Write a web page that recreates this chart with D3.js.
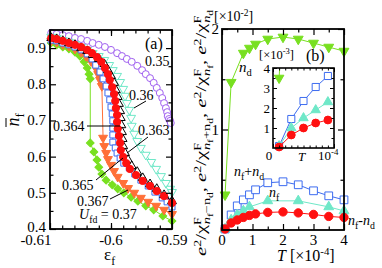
<!DOCTYPE html>
<html><head><meta charset="utf-8">
<script src="https://cdn.jsdelivr.net/npm/d3@7"></script>
<style>body{margin:0;background:#fff}text{font-family:"Liberation Serif","Times New Roman",serif;fill:#000}</style>
</head><body><svg id="c" width="382" height="268"></svg>
<script>
// ---------- Panel (a): n_f vs eps_f for several U_fd ----------
const epsA035=[-0.6098,-0.6089,-0.6079,-0.6069,-0.6059,-0.6049,-0.6039,-0.6030,-0.6020,-0.6010,-0.6000,-0.5990,-0.5982,-0.5974,-0.5966,-0.5957,-0.5949,-0.5943,-0.5936,-0.5930,-0.5925,-0.5920,-0.5916,-0.5913,-0.5910,-0.5908,-0.5907,-0.5905,-0.5903,-0.5902];
const nfA035=[0.942,0.939,0.936,0.933,0.928,0.925,0.920,0.914,0.909,0.903,0.895,0.886,0.878,0.870,0.862,0.851,0.839,0.828,0.817,0.804,0.790,0.776,0.762,0.748,0.734,0.723,0.712,0.704,0.699,0.693];
const epsA036=[-0.6098,-0.6089,-0.6079,-0.6069,-0.6059,-0.6049,-0.6039,-0.6030,-0.6020,-0.6011,-0.6003,-0.5997,-0.5990,-0.5985,-0.5980,-0.5977,-0.5974,-0.5970,-0.5967,-0.5966,-0.5962,-0.5957,-0.5951,-0.5943,-0.5934,-0.5926,-0.5918,-0.5910,-0.5903,-0.5900];
const nfA036=[0.931,0.928,0.922,0.917,0.911,0.903,0.895,0.886,0.878,0.867,0.853,0.839,0.823,0.806,0.787,0.768,0.748,0.729,0.707,0.685,0.663,0.643,0.624,0.605,0.585,0.566,0.546,0.527,0.511,0.502];
const epsA0363=[-0.6098,-0.6089,-0.6079,-0.6069,-0.6059,-0.6049,-0.6039,-0.6030,-0.6020,-0.6011,-0.6005,-0.6000,-0.5995,-0.5992,-0.5989,-0.5987,-0.5985,-0.5984,-0.5983,-0.5982,-0.5981,-0.5980,-0.5977,-0.5972,-0.5966,-0.5957,-0.5948,-0.5936,-0.5925,-0.5913,-0.5900];
const nfA0363=[0.928,0.925,0.920,0.914,0.909,0.900,0.892,0.881,0.870,0.856,0.839,0.823,0.804,0.784,0.765,0.746,0.726,0.707,0.687,0.668,0.649,0.629,0.610,0.591,0.574,0.558,0.541,0.524,0.511,0.494,0.477];
const epsA0364=[-0.6098,-0.6089,-0.6079,-0.6069,-0.6059,-0.6049,-0.6039,-0.6031,-0.6025,-0.6018,-0.6013,-0.6008,-0.6005,-0.6002,-0.6000,-0.5998,-0.5997,-0.5997,-0.5997,-0.5997,-0.5993,-0.5990,-0.5985,-0.5979,-0.5970,-0.5961,-0.5951,-0.5939,-0.5928,-0.5916,-0.5908,-0.5900];
const nfA0364=[0.922,0.920,0.914,0.909,0.903,0.895,0.884,0.870,0.853,0.834,0.815,0.795,0.776,0.757,0.737,0.718,0.699,0.679,0.660,0.640,0.624,0.610,0.596,0.582,0.569,0.552,0.535,0.519,0.502,0.486,0.475,0.461];
const epsA0365=[-0.6098,-0.6089,-0.6079,-0.6069,-0.6059,-0.6049,-0.6039,-0.6031,-0.6023,-0.6016,-0.6010,-0.6005,-0.6002,-0.5998,-0.5995,-0.5993,-0.5992,-0.5990,-0.5990,-0.5989,-0.5987,-0.5985,-0.5984,-0.5980,-0.5975,-0.5969,-0.5959,-0.5948,-0.5936,-0.5925,-0.5913,-0.5900];
const nfA0365=[0.928,0.925,0.920,0.914,0.909,0.903,0.895,0.886,0.875,0.862,0.845,0.828,0.812,0.792,0.773,0.754,0.734,0.715,0.696,0.677,0.657,0.638,0.618,0.599,0.582,0.566,0.549,0.533,0.519,0.505,0.491,0.472];
const epsA0367=[-0.6098,-0.6089,-0.6079,-0.6069,-0.6059,-0.6049,-0.6041,-0.6033,-0.6026,-0.6021,-0.6018,-0.6015,-0.6013,-0.6011,-0.6008,-0.6005,-0.6000,-0.5995,-0.5989,-0.5980,-0.5972,-0.5962,-0.5951,-0.5939,-0.5926,-0.5913,-0.5900];
const nfA0367=[0.920,0.917,0.911,0.906,0.898,0.889,0.878,0.864,0.848,0.828,0.812,0.795,0.652,0.629,0.610,0.593,0.577,0.560,0.544,0.527,0.513,0.500,0.486,0.475,0.464,0.453,0.441];
const epsA037=[-0.6098,-0.6089,-0.6079,-0.6069,-0.6059,-0.6051,-0.6044,-0.6039,-0.6036,-0.6034,-0.6034,-0.6028,-0.6023,-0.6020,-0.6015,-0.6008,-0.5998,-0.5989,-0.5979,-0.5967,-0.5956,-0.5943,-0.5930,-0.5915,-0.5900];
const nfA037=[0.914,0.909,0.903,0.898,0.889,0.878,0.862,0.845,0.828,0.815,0.638,0.613,0.591,0.571,0.552,0.535,0.522,0.511,0.500,0.488,0.477,0.464,0.453,0.436,0.422];
const xTicksA=[-0.61,-0.6,-0.59];
const yTicksA=[0.4,0.5,0.6,0.7,0.8,0.9];

// ---------- Panel (b): inverse susceptibilities vs T ----------
const T_nd=[0.1,0.3,0.7,0.9,1.1,1.5,2,2.5,3,3.5,4];
const chi_nd=[0.35,1.47,1.76,1.81,1.85,1.90,1.92,1.90,1.86,1.82,1.78];
const T_sum=[0.1,0.3,0.5,0.7,0.9,1.1,1.5,2,2.5,3,3.5,4];
const chi_sum=[0.01,0.15,0.24,0.30,0.35,0.40,0.47,0.48,0.45,0.39,0.34,0.30];
const T_f=[0.1,0.3,0.5,0.7,0.9,1.5,2.5,3.5,4];
const chi_f=[0.01,0.10,0.15,0.19,0.23,0.29,0.29,0.23,0.19];
const T_diff=[0.1,0.3,0.5,0.7,0.9,1.1,1.5,2,2.5,3,3.5,4];
const chi_diff=[0.01,0.07,0.10,0.125,0.145,0.16,0.175,0.18,0.17,0.155,0.135,0.125];
const xTicksB=[0,1,2,3,4];
const yTicksB=[1,2];
// inset (values in 1e-3, T in 1e-4)
const T_in=[0.1,0.3,0.5,0.7,0.9];
const in_sum=[0.1,1.45,2.35,3.05,3.6];
const in_f=[0.1,1.0,1.5,1.9,2.3];
const in_diff=[0.05,0.65,1.0,1.25,1.4];
const in_nd=[3.5,14.7];
const T_in_nd=[0.1,0.3];
const yTicksIn=[1,2,3,4];

const svg=d3.select('#c');
const FS=15;

function rich(parent,x,y,fs,segs,anchor){
  const t=parent.append('text').attr('x',x).attr('y',y).attr('font-size',fs).attr('text-anchor',anchor||'start');
  let cur=0;
  segs.forEach(s=>{
    const txt=s[0],lvl=s[1]||0,it=s[2]||false,dx=s[3]||0;
    const sh={'0':0,'1':-0.38*fs,'-1':0.28*fs,'-2':0.45*fs}[String(lvl)];
    const sz={'0':fs,'1':0.68*fs,'-1':0.7*fs,'-2':0.55*fs}[String(lvl)];
    t.append('tspan').attr('dy',sh-cur).attr('dx',dx).attr('font-size',sz).attr('font-style',it?'italic':'normal').text(txt);
    cur=sh;
  });
  return t;
}

function frame(g,x,y,o){
  const [x0,x1]=x.range(),[y0,y1]=y.range();
  const tk=(axis,scale,vals,size,tr)=>{
    const a=g.append('g').attr('transform',tr).call(axis(scale).tickValues(vals).tickSize(size).tickFormat(''));
    a.select('.domain').remove(); a.selectAll('line').attr('stroke','#000').attr('stroke-width',o.tw||1.2);
  };
  tk(d3.axisBottom,x,o.xMaj,-o.maj,`translate(0,${y0})`);
  tk(d3.axisTop,x,o.xMaj,-o.maj,`translate(0,${y1})`);
  tk(d3.axisBottom,x,o.xMin,-o.min,`translate(0,${y0})`);
  tk(d3.axisTop,x,o.xMin,-o.min,`translate(0,${y1})`);
  tk(d3.axisLeft,y,o.yMaj,-o.maj,`translate(${x0},0)`);
  tk(d3.axisRight,y,o.yMaj,-o.maj,`translate(${x1},0)`);
  tk(d3.axisLeft,y,o.yMin,-o.min,`translate(${x0},0)`);
  tk(d3.axisRight,y,o.yMin,-o.min,`translate(${x1},0)`);
  g.append('rect').attr('x',x0).attr('y',y1).attr('width',x1-x0).attr('height',y0-y1)
   .attr('fill','none').attr('stroke','#000').attr('stroke-width',o.fw||1.8);
}

function series(g,x,y,xs,ys,o){
  const pts=xs.map((d,i)=>[d,ys[i]]);
  g.append('path').datum(pts).attr('d',d3.line().x(d=>x(d[0])).y(d=>y(d[1])))
    .attr('fill','none').attr('stroke',o.lc||o.c).attr('stroke-width',o.lw||1);
  const sym=d3.symbol().type(o.type).size(o.size);
  g.selectAll(null).data(pts).join('path')
    .attr('d',sym).attr('transform',d=>`translate(${x(d[0])},${y(d[1])}) rotate(${o.rot||0})`)
    .attr('fill',o.fill?o.c:'#fff').attr('stroke',o.c).attr('stroke-width',o.sw||1);
}

// ====== Panel (a) ======
const xa=d3.scaleLinear().domain([-0.61,-0.59]).range([50,172]);
const ya=d3.scaleLinear().domain([0.4,0.95]).range([229,30]);
const ga=svg.append('g');
const cPur='#a060f0',cCyan='#6fe8c8',cBlue='#3d6cf0',cRed='#ff1010',cOr='#ff7038',cGr='#78e020';
series(ga,xa,ya,epsA035,nfA035,{c:cPur,type:d3.symbolCircle,size:38});
series(ga,xa,ya,epsA036,nfA036,{c:cCyan,type:d3.symbolTriangle,size:34,rot:180});
series(ga,xa,ya,epsA037,nfA037,{c:cGr,type:d3.symbolSquare,size:30,rot:45,fill:true});
series(ga,xa,ya,epsA0367,nfA0367,{c:cOr,type:d3.symbolTriangle,size:34,rot:180,fill:true});
series(ga,xa,ya,epsA0364,nfA0364,{c:cBlue,type:d3.symbolSquare,size:36});
series(ga,xa,ya,epsA0363,nfA0363,{c:'#000',type:d3.symbolTriangle,size:34});
series(ga,xa,ya,epsA0365,nfA0365,{c:cRed,type:d3.symbolCircle,size:42,fill:true});

frame(ga,xa,ya,{xMaj:xTicksA,xMin:d3.range(-0.608,-0.5905,0.002),yMaj:yTicksA,yMin:d3.range(0.45,0.95,0.1),maj:6,min:3.5});
ga.selectAll('.xl').data(xTicksA).join('text').attr('x',d=>xa(d)+(d===-0.61?-14:0)).attr('y',245)
  .attr('text-anchor','middle').attr('font-size',FS).text(d=>String(d));
ga.selectAll('.yl').data(yTicksA).join('text').attr('x',46).attr('y',d=>ya(d)+(d===0.4?3:5))
  .attr('text-anchor','end').attr('font-size',FS).text(d=>d.toFixed(1));
const yt=ga.append('g').attr('transform','translate(19,120) rotate(-90)');
rich(yt,0,0,18,[['n',0,true],['f',-1]],'middle');
yt.append('line').attr('x1',-7).attr('x2',2).attr('y1',-13).attr('y2',-13).attr('stroke','#000').attr('stroke-width',1);
rich(ga,104,260,17,[['ε'],['f',-1]],'start');
ga.append('text').attr('x',145).attr('y',49).attr('font-size',16).text('(a)');
const lbl=(x,y,t)=>ga.append('text').attr('x',x).attr('y',y).attr('font-size',14).text(t);
const ptr=(x1,y1,x2,y2)=>ga.append('line').attr('x1',x1).attr('y1',y1).attr('x2',x2).attr('y2',y2).attr('stroke','#000').attr('stroke-width',1);
lbl(145,66,'0.35');
lbl(129,100,'0.36'); ptr(146,101,134,108);
lbl(53,131,'0.364'); ptr(87,126,120,126);
lbl(138,135,'0.363'); ptr(148,137,127,153);
lbl(62,190,'0.365'); ptr(96,180,123,158);
lbl(77,206,'0.367'); ptr(110,199,128,190);
rich(ga,79,219,14,[['U',0,true],['fd',-1],[' = 0.37',0,false]]);

// ====== Panel (b) ======
const xb=d3.scaleLinear().domain([0,4]).range([222,344]);
const yb=d3.scaleLinear().domain([0,2]).range([230,29]);
const gb=svg.append('g');
series(gb,xb,yb,T_nd,chi_nd,{c:cGr,type:d3.symbolTriangle,size:42,rot:180,fill:true});
series(gb,xb,yb,T_sum,chi_sum,{c:cBlue,type:d3.symbolSquare,size:60});
series(gb,xb,yb,T_f,chi_f,{c:cCyan,type:d3.symbolTriangle,size:42,fill:true});
series(gb,xb,yb,T_diff,chi_diff,{c:cRed,type:d3.symbolCircle,size:55,fill:true});
frame(gb,xb,yb,{xMaj:xTicksB,xMin:d3.range(0.5,4,1),yMaj:yTicksB,yMin:[0.5,1.5],maj:6,min:3.5});
gb.selectAll('.xl').data(xTicksB).join('text').attr('x',d=>xb(d)).attr('y',245)
  .attr('text-anchor','middle').attr('font-size',FS).text(d=>d);
gb.selectAll('.yl').data(yTicksB).join('text').attr('x',219).attr('y',d=>yb(d)+5)
  .attr('text-anchor','end').attr('font-size',FS).text(d=>d);
rich(gb,214,21,14,[['[×10'],['-2',1],[']']]);
rich(gb,277,261,16,[['T',0,true],[' [×10'],['-4',1],[']']]);
const ybt=gb.append('g');
const ylab=rich(ybt,0,0,14.5,[['e',0,true],['2',1],['/χ'],['F',1],['n',-1,true,-5],['f',-2],['−n',-1],['d',-2],[', '],
  ['e',0,true],['2',1],['/χ'],['F',1],['n',-1,true,-5],['f',-2],['+n',-1],['d',-2],[', '],
  ['e',0,true],['2',1],['/χ'],['F',1],['n',-1,true,-5],['f',-2],[', '],
  ['e',0,true],['2',1],['/χ'],['F',1],['n',-1,true,-5],['d',-2]],'middle');
const L=ylab.node().getBBox().width;
ybt.attr('transform',`translate(206,133) rotate(-90) scale(${246/L},1)`);
rich(gb,239,72,15,[['n',0,true],['d',-1]]);
rich(gb,234,176,14,[['n',0,true],['f',-1],['+'],['n',0,true],['d',-1]]);
rich(gb,269,197,14,[['n',0,true],['f',-1]]);
rich(gb,348,225,14,[['n',0,true],['f',-1],['-'],['n',0,true],['d',-1]]);
gb.append('text').attr('x',306).attr('y',61).attr('font-size',16).text('(b)');
rich(gb,259,59,12.5,[['[×10'],['-3',1],[']']]);

// inset
const xi=d3.scaleLinear().domain([0,1]).range([273,334]);
const yi=d3.scaleLinear().domain([0,4]).range([148,68]);
const gi=svg.append('g');
gi.append('rect').attr('x',273).attr('y',68).attr('width',61).attr('height',80).attr('fill','#fff');
svg.append('clipPath').attr('id','ci').append('rect').attr('x',273).attr('y',68).attr('width',61).attr('height',80);
const gic=gi.append('g').attr('clip-path','url(#ci)');
gic.append('path').datum(T_in_nd.map((d,i)=>[d,in_nd[i]])).attr('d',d3.line().x(d=>xi(d[0])).y(d=>yi(d[1])))
  .attr('fill','none').attr('stroke',cGr).attr('stroke-width',1);
gi.append('path').attr('d',d3.symbol().type(d3.symbolTriangle).size(40)).attr('transform',`translate(${xi(T_in_nd[0])},${yi(in_nd[0])}) rotate(180)`).attr('fill',cGr).attr('stroke',cGr);
series(gi,xi,yi,T_in,in_sum,{c:cBlue,type:d3.symbolSquare,size:50});
series(gi,xi,yi,T_in,in_f,{c:cCyan,type:d3.symbolTriangle,size:38,fill:true});
series(gi,xi,yi,T_in,in_diff,{c:cRed,type:d3.symbolCircle,size:48,fill:true});
frame(gi,xi,yi,{xMaj:[0,1],xMin:d3.range(0.1,1,0.1),yMaj:yTicksIn,yMin:[0.5,1.5,2.5,3.5],maj:4,min:2.5,fw:1.6,tw:1});
gi.selectAll('.yl').data(yTicksIn).join('text').attr('x',270).attr('y',d=>yi(d)+4.5)
  .attr('text-anchor','end').attr('font-size',13).text(d=>d);
gi.append('text').attr('x',269).attr('y',160).attr('text-anchor','middle').attr('font-size',13).text('0');
rich(gi,298,161,13,[['T',0,true]]);
rich(gi,318,160,13,[['10'],['-4',1]]);
</script></body></html>
